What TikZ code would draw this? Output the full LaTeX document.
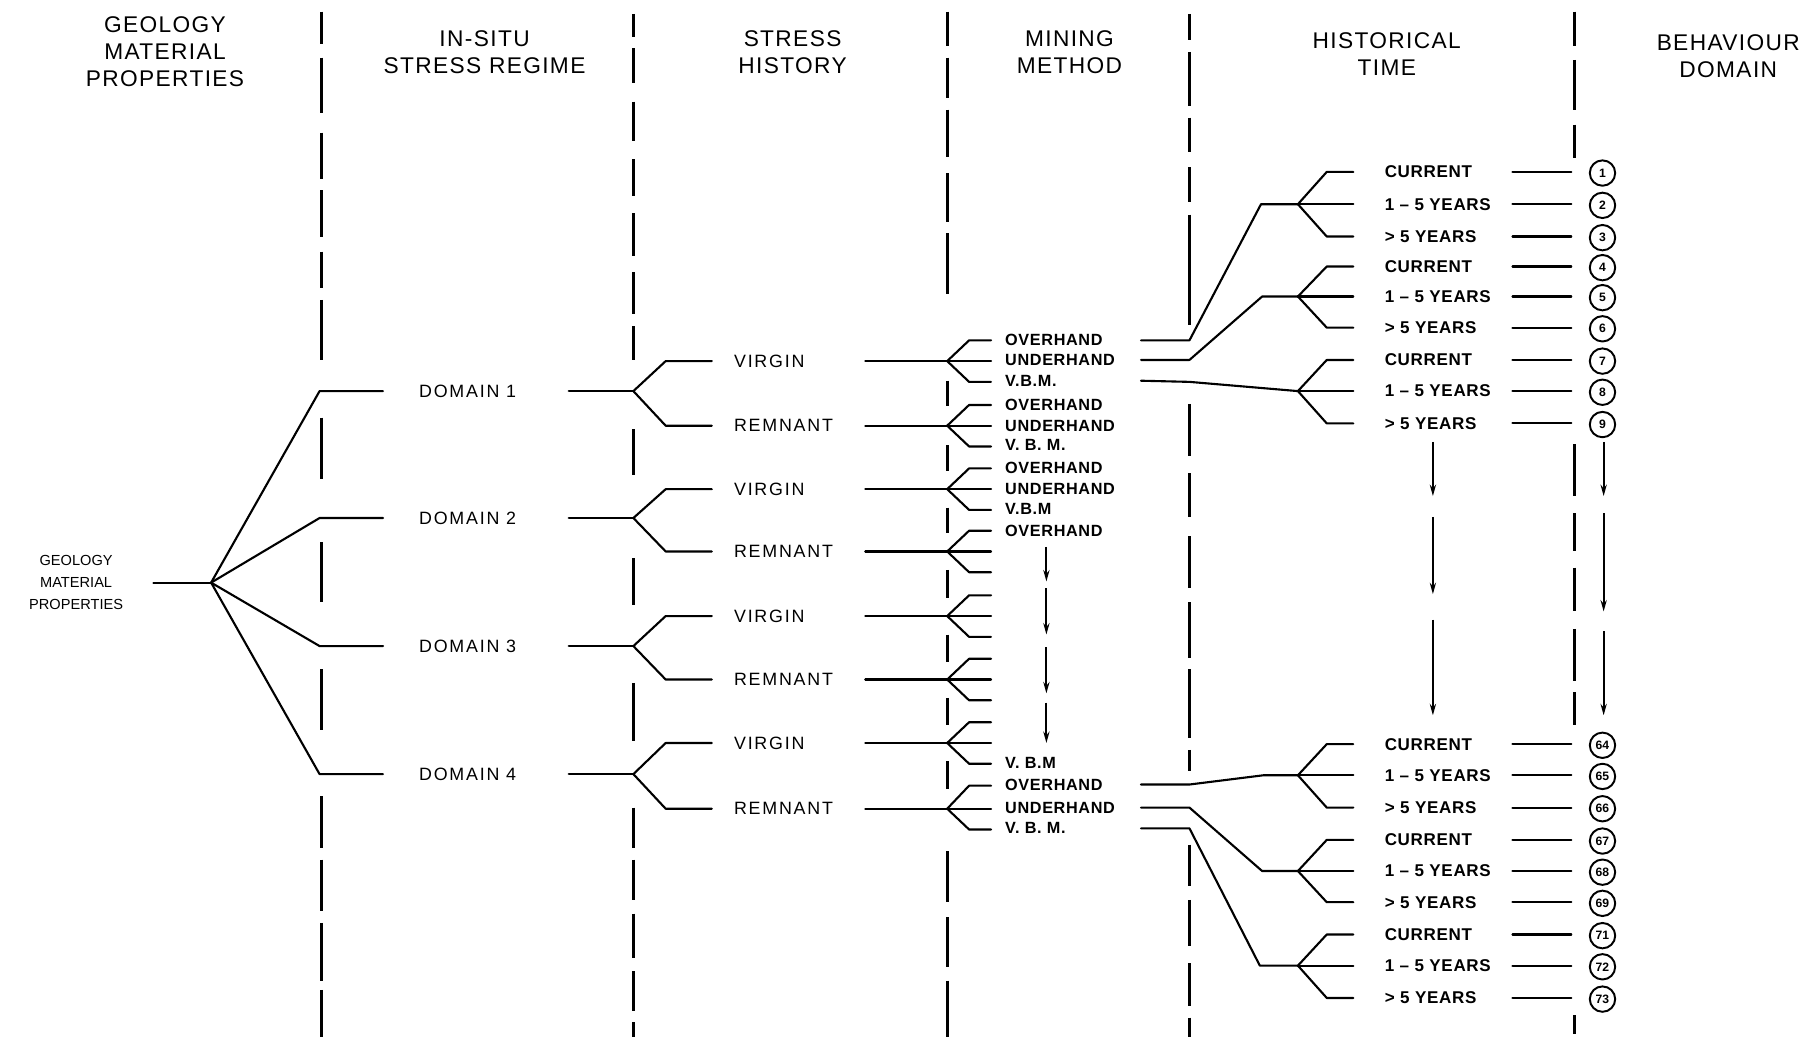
\documentclass[tikz,border=0pt]{standalone}
\usepackage{fontspec}
\setmainfont{Liberation Sans}
\newfontfamily\hdrfont[LetterSpace=6]{Liberation Sans}
\newfontfamily\domfont[LetterSpace=10]{Liberation Sans}
\newfontfamily\lblfont[LetterSpace=4]{Liberation Sans}
\usetikzlibrary{arrows.meta}
\begin{document}
\begin{tikzpicture}[x=0.025cm,y=-0.025cm,
  ln/.style={line width=1.3pt,line join=round,line cap=round},
  sep/.style={line width=1.9pt},
  arr/.style={line width=1.3pt,-{Stealth[length=7pt,width=3.8pt]}},
  hdr/.style={font=\hdrfont\fontsize{14}{16.7}\selectfont,align=center,inner sep=0pt},
  rootlbl/.style={font=\fontsize{9}{13.5}\selectfont,align=center,inner sep=0pt},
  dom/.style={font=\domfont\fontsize{11}{13}\selectfont,anchor=west,inner sep=0pt},
  lbl/.style={font=\lblfont\fontsize{10}{12}\selectfont\bfseries,anchor=west,inner sep=0pt},
  hlbl/.style={font=\lblfont\fontsize{10.5}{12}\selectfont\bfseries,anchor=west,inner sep=0pt},
  num/.style={circle,draw,line width=1.2pt,minimum size=0.55cm,inner sep=0pt,font=\fontsize{7.5}{8}\selectfont\bfseries}
]
\useasboundingbox (0,0) rectangle (1568,899);

% column separators
\foreach \a/\b in {10/38,50/98,115/155,165/205,218/250,260/312,362/415,470/522,580/633,690/735,745/790,800/850,858/899}
  \draw[sep] (279,\a) -- (279,\b);
\foreach \a/\b in {12/32,42/72,88/122,138/170,185/222,236/272,283/312,372/412,484/524,592/642,700/735,745/780,792/830,842/876,886/899}
  \draw[sep] (549,\a) -- (549,\b);
\foreach \a/\b in {10/40,50/85,95/136,150/192,202/255,330/352,386/408,440/462,494/518,550/574,605/628,660/684,738/782,795/838,850/899}
  \draw[sep] (821,\a) -- (821,\b);
\foreach \a/\b in {12/35,45/92,102/132,145/175,186/282,350/395,410/448,465/510,522/570,580/640,650/668,732/768,780/820,835/872,882/899}
  \draw[sep] (1031,\a) -- (1031,\b);
\foreach \a/\b in {10/40,52/95,108/137,385/430,445/478,492/530,545/590,600/628,880/896}
  \draw[sep] (1365,\a) -- (1365,\b);

% headers
\node[hdr] (h1) at (143,45) {GEOLOGY\\MATERIAL\\PROPERTIES};
\node[hdr] (h2) at (420,45) {IN-SITU\\STRESS REGIME};
\node[hdr] (h3) at (687,45) {STRESS\\HISTORY};
\node[hdr] (h4) at (927,45) {MINING\\METHOD};
\node[hdr] (h5) at (1202,47) {HISTORICAL\\TIME};
\node[hdr] (h6) at (1498,49) {BEHAVIOUR\\DOMAIN};

% root
\node[rootlbl] (root) at (66,505) {GEOLOGY\\MATERIAL\\PROPERTIES};
\coordinate (r0) at (133,505);
\coordinate (rf) at (183,505);
\draw[ln] (r0) -- (rf);

% domains
\foreach \i/\y in {1/339,2/449,3/560,4/671} {
  \coordinate (de\i) at (277,\y);
  \coordinate (dl\i) at (332,\y);
  \node[dom] (dom\i) at (363,\y) {DOMAIN \i};
  \coordinate (dr\i) at (493,\y);
  \coordinate (df\i) at (549,\y);
  \draw[ln] (rf) -- (de\i) -- (dl\i);
  \draw[ln] (dr\i) -- (df\i);
}

% stress history
\foreach \i/\d/\y/\u/\txt in {1/1/313/18/VIRGIN,2/1/369/18/REMNANT,3/2/424/18/VIRGIN,4/2/478/18/REMNANT,5/3/534/18/VIRGIN,6/3/589/18/REMNANT,7/4/644/18/VIRGIN,8/4/701/20/REMNANT} {
  \coordinate (se\i) at (577,\y);
  \coordinate (sl\i) at (617,\y);
  \node[dom] (sh\i) at (636,\y) {\txt};
  \coordinate (sr\i) at (750,\y);
  \coordinate (sf\i) at (821,\y);
  \draw[ln] (df\d) -- (se\i) -- (sl\i);
  \draw[ln] (sr\i) -- (sf\i);
  % mining method fork
  \coordinate (mu\i) at (840,{\y-\u});
  \coordinate (mut\i) at (859,{\y-\u});
  \coordinate (mm\i) at (859,\y);
  \coordinate (md\i) at (840,{\y+18});
  \coordinate (mdt\i) at (859,{\y+18});
  \draw[ln] (sf\i) -- (mu\i) -- (mut\i);
  \draw[ln] (sf\i) -- (mm\i);
  \draw[ln] (sf\i) -- (md\i) -- (mdt\i);
}

% mining method labels
\foreach \n/\y/\txt in {m1/295/OVERHAND,m2/312/UNDERHAND,m3/330/{V.B.M.},m4/351/OVERHAND,m5/369/UNDERHAND,m6/386/{V. B. M.},m7/406/OVERHAND,m8/424/UNDERHAND,m9/441/{V.B.M},m10/460/OVERHAND,m11/661/{V. B.M},m12/680/OVERHAND,m13/700/UNDERHAND,m14/718/{V. B. M.}}
  \node[lbl] (\n) at (871,\y) {\txt};

% historical forks
\foreach \k/\y in {1/177,2/257,3/339,4/672,5/755,6/837}
  \coordinate (hf\k) at (1125,\y);

% connectors mining -> historical
\foreach \n/\ya/\xb/\yb/\k in {A/295/1093/177/1,B/312/1094/257/2,D/680/1095/672/4,E/700/1094/755/5,F/718/1092/837/6} {
  \coordinate (\n0) at (989,\ya);
  \coordinate (\n1) at (1031,\ya);
  \coordinate (\n2) at (\xb,\yb);
  \draw[ln] (\n0) -- (\n1) -- (\n2) -- (hf\k);
}
\coordinate (C0) at (989,330);
\coordinate (C1) at (1031,331);
\draw[ln] (C0) -- (C1) -- (hf3);

% historical time rows and behaviour domains
\foreach \r/\k/\y/\txt/\n in {1/1/149/CURRENT/1,2/1/177/{1 – 5 YEARS}/2,3/1/205/{> 5 YEARS}/3,4/2/231/CURRENT/4,5/2/257/{1 – 5 YEARS}/5,6/2/284/{> 5 YEARS}/6,7/3/312/CURRENT/7,8/3/339/{1 – 5 YEARS}/8,9/3/367/{> 5 YEARS}/9,10/4/645/CURRENT/64,11/4/672/{1 – 5 YEARS}/65,12/4/700/{> 5 YEARS}/66,13/5/728/CURRENT/67,14/5/755/{1 – 5 YEARS}/68,15/5/782/{> 5 YEARS}/69,16/6/810/CURRENT/71,17/6/837/{1 – 5 YEARS}/72,18/6/865/{> 5 YEARS}/73} {
  \coordinate (he\r) at (1150,\y);
  \coordinate (ht\r) at (1173,\y);
  \node[hlbl] (hl\r) at (1200,\y) {\txt};
  \coordinate (bl\r) at (1311,\y);
  \coordinate (br\r) at (1362,\y);
  \node[num] (bd\r) at (1389,{\y+1}) {\n};
  \draw[ln] (hf\k) -- (he\r) -- (ht\r);
  \draw[ln] (bl\r) -- (br\r);
}

% continuation arrows
\foreach \i/\x/\a/\b in {1/907/474/504,2/907/510/550,3/907/561/601,4/907/609/644,5/1242/383/430,6/1242/448/515,7/1242/537/620,8/1390/383/430,9/1390/445/530,10/1390/547/620} {
  \coordinate (as\i) at (\x,\a);
  \coordinate (ae\i) at (\x,\b);
  \draw[arr] (as\i) -- (ae\i);
}
\end{tikzpicture}
\end{document}
